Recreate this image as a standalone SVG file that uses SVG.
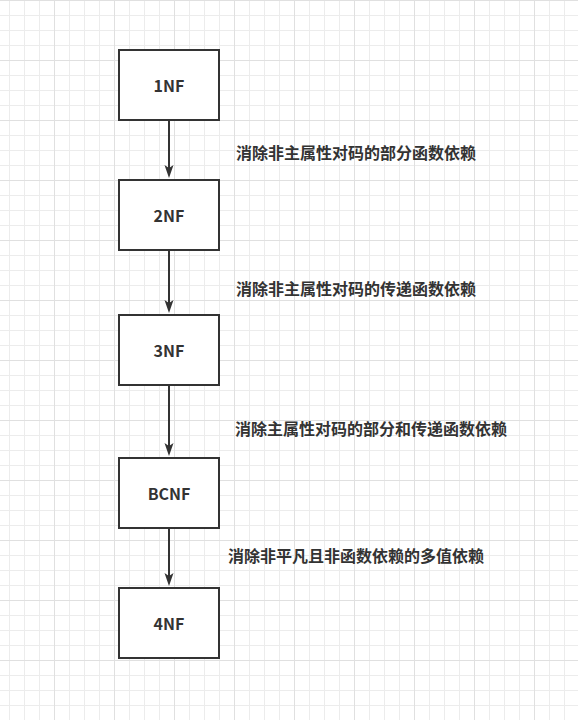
<svg xmlns="http://www.w3.org/2000/svg" width="578" height="720" viewBox="0 0 578 720">
<defs>
<pattern id="grid" patternUnits="userSpaceOnUse" x="-6" y="0" width="60" height="60">
<path d="M15.5,0V60M30.5,0V60M45.5,0V60M0,15.5H60M0,30.5H60M0,45.5H60" stroke="#ececec" stroke-width="1" fill="none"/>
<path d="M0.5,0V60M0,0.5H60" stroke="#e0e0e0" stroke-width="1" fill="none"/>
</pattern>
<marker id="arr" viewBox="0 0 14 10" refX="3" refY="5" markerWidth="14" markerHeight="10" markerUnits="userSpaceOnUse" orient="auto">
<path d="M0,0.5 L13,5 L0,9.5 L3,5 Z" fill="#333333"/>
</marker>
</defs>
<style>
.box{fill:#ffffff;stroke:#333333;stroke-width:2}
.nt{font-family:"Noto Sans CJK SC","Noto Sans",sans-serif;font-size:16px;font-weight:bold;fill:#333333;text-anchor:middle;dominant-baseline:central}
.lb{font-family:"Noto Sans CJK SC",sans-serif;font-size:16px;font-weight:bold;fill:#333333;dominant-baseline:central}
.edge{stroke:#333333;stroke-width:2;fill:none;marker-end:url(#arr)}
</style>
<rect width="578" height="720" fill="#ffffff"/>
<rect width="578" height="720" fill="url(#grid)"/>
<g id="connectors">
<line class="edge" x1="169" y1="121" x2="169" y2="168"/>
<line class="edge" x1="169" y1="251" x2="169" y2="303"/>
<line class="edge" x1="169" y1="386" x2="169" y2="446"/>
<line class="edge" x1="169" y1="529" x2="169" y2="576"/>
</g>
<g id="labels">
<text class="lb" x="236" y="152">消除非主属性对码的部分函数依赖</text>
<text class="lb" x="236" y="288">消除非主属性对码的传递函数依赖</text>
<text class="lb" x="235" y="428">消除主属性对码的部分和传递函数依赖</text>
<text class="lb" x="228" y="555">消除非平凡且非函数依赖的多值依赖</text>
</g>
<g id="node-1NF"><rect class="box" x="119" y="50" width="100" height="70"/><text class="nt" x="169" y="85">1NF</text></g>
<g id="node-2NF"><rect class="box" x="119" y="180" width="100" height="70"/><text class="nt" x="169" y="215">2NF</text></g>
<g id="node-3NF"><rect class="box" x="119" y="315" width="100" height="70"/><text class="nt" x="169" y="350">3NF</text></g>
<g id="node-BCNF"><rect class="box" x="119" y="458" width="100" height="70"/><text class="nt" x="169" y="493">BCNF</text></g>
<g id="node-4NF"><rect class="box" x="119" y="588" width="100" height="70"/><text class="nt" x="169" y="623">4NF</text></g>
</svg>
